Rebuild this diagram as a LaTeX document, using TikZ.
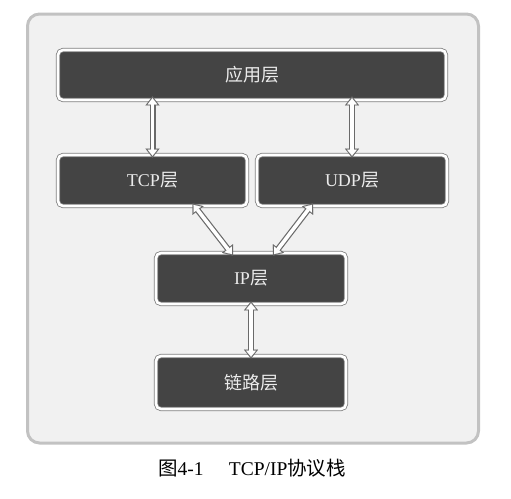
\documentclass[tikz,border=0pt]{standalone}
\usepackage{fontspec}
\setmainfont{Liberation Serif}
\newfontfamily\cjk{Noto Sans CJK SC}
\usetikzlibrary{arrows.meta,calc}
\definecolor{boxfill}{HTML}{444444}
\definecolor{boxedge}{HTML}{7E7E7E}
\definecolor{panelfill}{HTML}{F1F1F1}
\definecolor{paneledge}{HTML}{C2C2C2}
\definecolor{arrowedge}{HTML}{6A6A6A}
\tikzset{
  layerbox/.style={rectangle, rounded corners=5pt, fill=boxfill, draw=boxedge,
    double=white, double distance=2.6pt, line width=0.8pt, text=white!92!black,
    inner sep=0pt, font=\fontsize{18}{20}\selectfont},
  hollowout/.style={draw=arrowedge, line width=6pt,
    {Triangle[length=9pt,width=14pt,line width=0.1pt]}-{Triangle[length=9pt,width=14pt,line width=0.1pt]}},
  hollowin/.style={draw=white, line width=3.6pt,
    {Triangle[length=6pt,width=9.6pt,line width=0.1pt]}-{Triangle[length=6pt,width=9.6pt,line width=0.1pt]}},
}
\begin{document}
\begin{tikzpicture}[x=1pt,y=-1pt]
\useasboundingbox (0,0) rectangle (511,498);
\node[draw=paneledge, fill=panelfill, line width=3pt, rounded corners=12pt,
  minimum width=451pt, minimum height=429pt, inner sep=0pt] (panel) at (253,228.5) {};
\node[layerbox, minimum width=388pt, minimum height=50pt] (app) at (252,75) {\raisebox{-2pt}{\cjk 应用层}};
\node[layerbox, minimum width=189pt, minimum height=51pt] (tcp) at (152.5,180.5) {\raisebox{-2pt}{TCP{\cjk 层}}};
\node[layerbox, minimum width=190pt, minimum height=51pt] (udp) at (352,180.5) {\raisebox{-2pt}{UDP{\cjk 层}}};
\node[layerbox, minimum width=190pt, minimum height=51pt] (ip) at (251,278.5) {\raisebox{-1pt}{IP{\cjk 层}}};
\node[layerbox, minimum width=190pt, minimum height=53pt] (link) at (251,382.5) {\raisebox{-2pt}{\cjk 链路层}};
% connectors
\coordinate (a1) at ([yshift=4pt]app.south -| tcp.north);
\coordinate (t1) at ([yshift=-3pt]tcp.north);
\coordinate (a2) at ([yshift=4pt]app.south -| udp.north);
\coordinate (u1) at ([yshift=-3pt]udp.north);
\coordinate (t2) at ([xshift=40pt,yshift=3pt]tcp.south);
\coordinate (i1) at ([xshift=-18pt,yshift=-3pt]ip.north);
\coordinate (u2) at ([xshift=-39pt,yshift=3pt]udp.south);
\coordinate (i2) at ([xshift=22pt,yshift=-3pt]ip.north);
\coordinate (i3) at ([yshift=3pt]ip.south);
\coordinate (l1) at ([yshift=-3pt]link.north);
\foreach \p/\q in {a1/t1, a2/u1, t2/i1, u2/i2, i3/l1}{
  \draw[hollowout] (\p) -- (\q);
  \draw[hollowin, shorten <=1.9pt, shorten >=1.9pt] (\p) -- (\q);
}
\node[font=\fontsize{19.5}{22}\selectfont] (caption) at (252,468)
  {{\cjk 图}4-1\hspace{1.3em}TCP/IP{\cjk 协议栈}};
\end{tikzpicture}
\end{document}
